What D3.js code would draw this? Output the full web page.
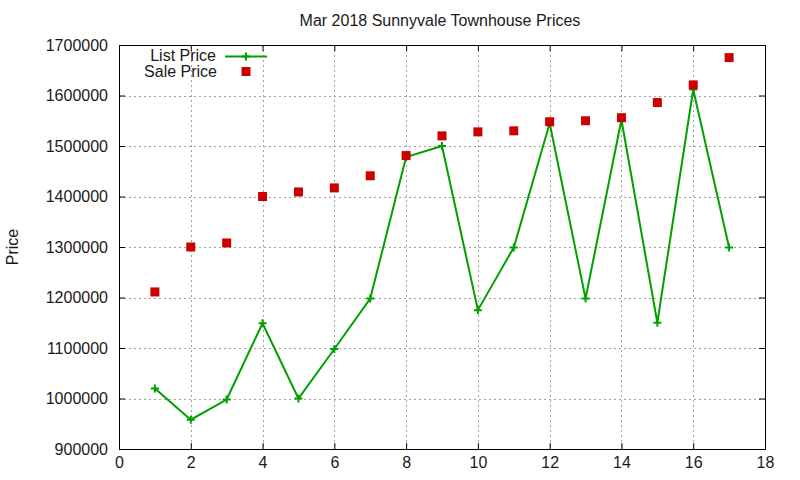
<!DOCTYPE html>
<meta charset="utf-8">
<script src="https://d3js.org/d3.v7.min.js"></script>
<style>
  body { margin: 0; background: #fff; }
  text { font-family: "Liberation Sans", Arial, sans-serif; fill: #1a1a1a; }
</style>
<div id="chart"></div>
<script>
// data
const days = [1, 2, 3, 4, 5, 6, 7, 8, 9, 10, 11, 12, 13, 14, 15, 16, 17];
const listPrice = [1020000, 958000, 998000, 1149000, 1000000, 1098000, 1198000, 1478000, 1500000,
                   1175000, 1299000, 1545000, 1198000, 1552000, 1150000, 1612000, 1299000];
const salePrice = [1211000, 1300000, 1308000, 1400000, 1409000, 1417000, 1441000, 1481000, 1520000,
                   1528000, 1530000, 1548000, 1550000, 1556000, 1586000, 1621000, 1675000];
const xTicks = [0, 2, 4, 6, 8, 10, 12, 14, 16, 18];
const yTicks = [900000, 1000000, 1100000, 1200000, 1300000, 1400000, 1500000, 1600000, 1700000];

const W = 800, H = 480;
const margin = {top: 45, right: 35, bottom: 31, left: 119};
const green = "#00a000", red = "#cc0000";

const svg = d3.select("#chart").append("svg")
  .attr("width", W).attr("height", H);

const x = d3.scaleLinear().domain([0, 18]).range([margin.left, W - margin.right]);
const y = d3.scaleLinear().domain([900000, 1700000]).range([H - margin.bottom, margin.top]);

// grid
const grid = svg.append("g").attr("stroke", "#a0a0a0").attr("stroke-dasharray", "2,3").attr("stroke-width", 1);
grid.selectAll("line.gx").data(xTicks.slice(1, -1)).join("line")
  .attr("x1", d => Math.round(x(d)) + 0.5).attr("x2", d => Math.round(x(d)) + 0.5)
  .attr("y1", y.range()[1]).attr("y2", y.range()[0]);
grid.selectAll("line.gy").data(yTicks.slice(1, -1)).join("line")
  .attr("y1", d => Math.round(y(d)) + 0.5).attr("y2", d => Math.round(y(d)) + 0.5)
  .attr("x1", x.range()[0]).attr("x2", x.range()[1]);

// axes, ticks inward and mirrored
const fmt = d3.format("d");
svg.append("g").attr("transform", `translate(0,${y.range()[0]})`)
  .call(d3.axisBottom(x).tickValues(xTicks).tickSize(-6).tickPadding(8).tickFormat(fmt));
svg.append("g").attr("transform", `translate(0,${y.range()[1]})`)
  .call(d3.axisTop(x).tickValues(xTicks).tickSize(-6).tickFormat(""));
svg.append("g").attr("transform", `translate(${x.range()[0]},0)`)
  .call(d3.axisLeft(y).tickValues(yTicks).tickSize(-6).tickPadding(11).tickFormat(fmt));
svg.append("g").attr("transform", `translate(${x.range()[1]},0)`)
  .call(d3.axisRight(y).tickValues(yTicks).tickSize(-6).tickFormat(""));
svg.selectAll(".domain").attr("stroke", "#000");
svg.selectAll(".tick line").attr("stroke", "#000");
svg.selectAll(".tick text").style("font-size", "16px").attr("fill", "#1a1a1a");

// list price line
svg.append("path")
  .datum(days.map((d, i) => [d, listPrice[i]]))
  .attr("fill", "none").attr("stroke", green).attr("stroke-width", 2)
  .attr("d", d3.line().x(d => x(d[0])).y(d => y(d[1])));

const plus = (g, cx, cy) => g.append("path")
  .attr("d", `M${cx - 4},${cy}H${cx + 4}M${cx},${cy - 4}V${cy + 4}`)
  .attr("stroke", green).attr("stroke-width", 2);
const pts = svg.append("g");
days.forEach((d, i) => plus(pts, x(d), y(listPrice[i])));

// sale price squares
svg.append("g").selectAll("rect").data(days).join("rect")
  .attr("x", (d) => x(d) - 4.5).attr("y", (d, i) => y(salePrice[i]) - 4.5)
  .attr("width", 9).attr("height", 9).attr("fill", red);

// legend
const leg = svg.append("g").style("font-size", "16px");
leg.append("text").attr("x", 216).attr("y", 61).attr("text-anchor", "end").text("List Price");
leg.append("line").attr("x1", 225).attr("x2", 267).attr("y1", 56.5).attr("y2", 56.5)
  .attr("stroke", green).attr("stroke-width", 2);
plus(leg, 246, 56.5);
leg.append("text").attr("x", 217).attr("y", 77).attr("text-anchor", "end").text("Sale Price");
leg.append("rect").attr("x", 241.5).attr("y", 67).attr("width", 9).attr("height", 9).attr("fill", red);

// titles
svg.append("text").attr("x", 440).attr("y", 26).attr("text-anchor", "middle")
  .style("font-size", "16px").text("Mar 2018 Sunnyvale Townhouse Prices");
svg.append("text").attr("transform", "translate(18,247) rotate(-90)").attr("text-anchor", "middle")
  .style("font-size", "16px").text("Price");
</script>
